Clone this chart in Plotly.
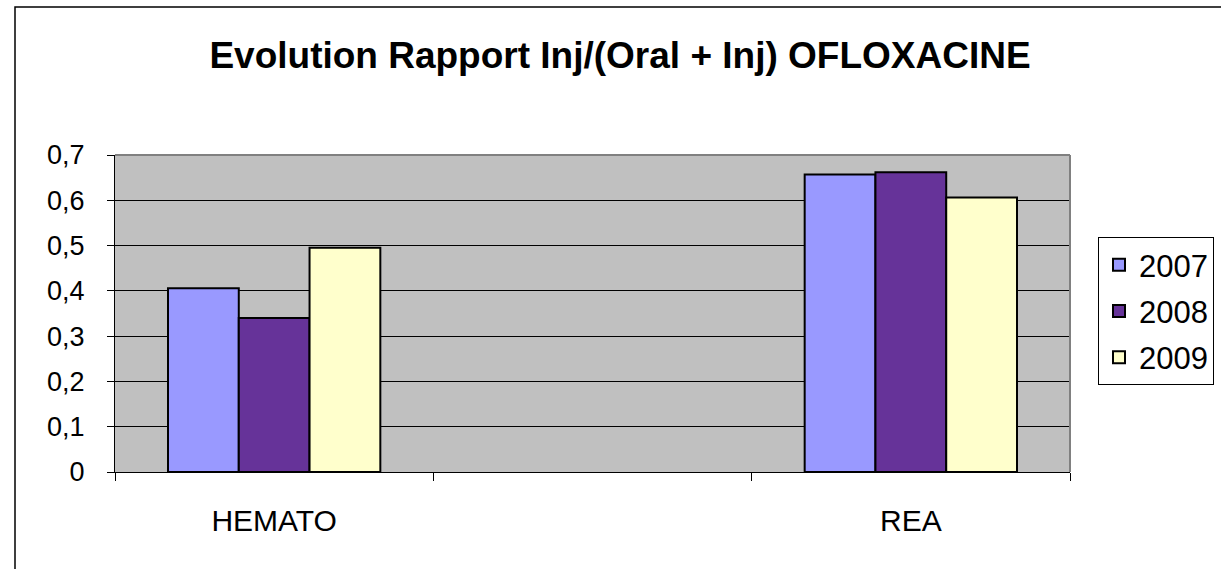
import plotly.graph_objects as go

categories = ["HEMATO", " ", "REA"]
years = ["2007", "2008", "2009"]
values_2007 = [0.406, None, 0.657]
values_2008 = [0.340, None, 0.662]
values_2009 = [0.495, None, 0.606]
colors = ["#9999FF", "#663399", "#FFFFCC"]
ytick_vals = [0, 0.1, 0.2, 0.3, 0.4, 0.5, 0.6, 0.7]
ytick_text = ["0", "0,1", "0,2", "0,3", "0,4", "0,5", "0,6", "0,7"]

FONT = "Liberation Sans, Arial, sans-serif"

fig = go.Figure()
for name, vals, col in zip(years, [values_2007, values_2008, values_2009], colors):
    fig.add_trace(go.Bar(
        x=categories, y=vals, name=name, legendgroup=name,
        marker=dict(color=col, line=dict(color="black", width=2)),
    ))

W, H = 1221, 569
L, R, T, B = 115, 151, 155, 97
pw, ph = W - L - R, H - T - B

def px_x(p):
    return (p - L) / pw

def px_y(p):
    return (H - B - p) / ph

fig.update_layout(
    width=W, height=H,
    margin=dict(l=L, r=R, t=T, b=B),
    paper_bgcolor="white",
    plot_bgcolor="#C0C0C0",
    barmode="group",
    bargap=0.333,
    bargroupgap=0,
    font=dict(family=FONT, color="black", size=26),
    title=dict(
        text="<b>Evolution Rapport Inj/(Oral + Inj) OFLOXACINE</b>",
        x=620 / W, xanchor="center", xref="container",
        y=1 - 55 / H, yanchor="middle", yref="container",
        font=dict(family=FONT, size=37, color="black"),
    ),
    legend=dict(
        x=1098 / W, y=1 - 237 / H, xanchor="left", yanchor="top",
        xref="container", yref="container",
        bordercolor="black", borderwidth=1, bgcolor="white",
        font=dict(family=FONT, size=31, color="black"),
        tracegroupgap=3,
    ),
    showlegend=True,
)

fig.update_xaxes(
    type="category",
    showgrid=False,
    showline=True, linecolor="black", linewidth=1,
    ticks="outside", tickson="boundaries", ticklen=8, tickcolor="black", tickwidth=1,
    tickfont=dict(family=FONT, size=30, color="black"),
    ticklabelstandoff=22,
)
fig.update_yaxes(
    range=[0, 0.7],
    tickvals=ytick_vals, ticktext=ytick_text,
    showgrid=True, gridcolor="black", gridwidth=1,
    showline=True, linecolor="black", linewidth=1,
    ticks="outside", ticklen=7, tickcolor="black", tickwidth=1,
    tickfont=dict(family=FONT, size=27, color="black"),
    ticklabelstandoff=17,
    zeroline=False,
)

# plot-area border (top and right in grey)
fig.add_shape(type="line", xref="paper", yref="paper", x0=0, x1=1, y0=1, y1=1,
              line=dict(color="#808080", width=2), layer="above")
fig.add_shape(type="line", xref="paper", yref="paper", x0=1, x1=1, y0=0, y1=1,
              line=dict(color="#808080", width=2), layer="above")
# outer chart frame
fig.add_shape(type="rect", xref="paper", yref="paper",
              x0=px_x(15), x1=px_x(1240), y0=px_y(600), y1=px_y(7),
              line=dict(color="black", width=1.5), fillcolor="rgba(0,0,0,0)", layer="below")

fig.write_html(
    "out.html",
    config={"displayModeBar": False},
    post_script="document.body.style.margin='0';document.body.style.overflow='hidden';",
)
